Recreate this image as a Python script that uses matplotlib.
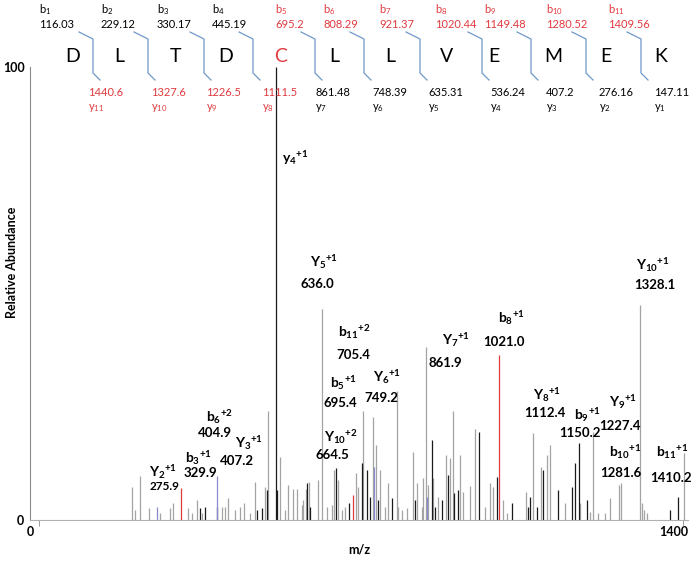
import numpy as np
import matplotlib.pyplot as plt
from matplotlib.lines import Line2D

plt.rcParams['font.family'] = ['Lato', 'DejaVu Sans']
plt.rcParams['mathtext.fontset'] = 'custom'
plt.rcParams['mathtext.rm'] = 'Lato'
plt.rcParams['mathtext.it'] = 'Lato'
plt.rcParams['mathtext.bf'] = 'Lato:bold'

# peptide sequence and fragment masses
residues = ['D', 'L', 'T', 'D', 'C', 'L', 'L', 'V', 'E', 'M', 'E', 'K']
b_ions = ['116.03', '229.12', '330.17', '445.19', '695.2', '808.29', '921.37',
          '1020.44', '1149.48', '1280.52', '1409.56']
y_ions = ['1440.6', '1327.6', '1226.5', '1111.5', '861.48', '748.39', '635.31',
          '536.24', '407.2', '276.16', '147.11']
b_found = [False, False, False, False, True, True, True, True, True, True, True]
y_found = [True, True, True, True, False, False, False, False, False, False, False]

# spectrum peaks (m/z, relative abundance) by colour
grey_mz = [221, 228, 239, 259, 283, 304, 310, 344, 352, 363, 374, 417, 424, 431, 446,
           457, 465, 478, 489, 511, 517, 543, 554, 561, 571, 580, 591, 594, 600, 607,
           626, 635, 646, 657, 661, 670, 678, 685, 709, 713, 723, 746, 752, 761, 772,
           778, 798, 800, 809, 820, 833, 841, 852, 855, 861, 866, 876, 886, 905, 913,
           920, 935, 941, 957, 967, 989, 1000, 1007, 1028, 1037, 1078, 1093, 1110,
           1124, 1130, 1163, 1196, 1217, 1224, 1235, 1250, 1261, 1280, 1285, 1326,
           1330, 1335, 1341, 1422]
grey_int = [7.3, 2.2, 9.7, 2.6, 1.5, 2.6, 3.8, 2.6, 1.5, 4.4, 1.5, 2.9, 2.9, 4.9, 2.2,
            2.9, 3.8, 1.5, 8.4, 7.3, 24.0, 14.0, 2.2, 7.7, 6.8, 6.8, 3.3, 4.4, 6.8, 8.4,
            8.8, 46.6, 2.9, 3.3, 11.0, 8.8, 2.2, 2.9, 10.4, 7.3, 24.0, 22.7, 16.6, 11.0, 2.9,
            8.1, 28.5, 2.9, 2.2, 2.6, 15.0, 8.1, 2.9, 9.3, 38.2, 7.7, 9.3, 5.0, 14.3, 13.7,
            24.0, 14.3, 6.2, 7.5, 20.0, 2.9, 8.1, 7.3, 4.4, 1.5, 6.2, 19.2, 11.7,
            14.3, 16.6, 3.8, 3.8, 1.8, 19.5, 1.5, 1.5, 4.9, 7.7, 8.1, 47.5,
            3.8, 2.2, 1.5, 14.8]
black_mz = [370, 380, 407, 493, 504, 515, 535, 537, 602, 609, 665, 693, 722, 733, 739,
            757, 787, 837, 874, 880, 896, 909, 922, 930, 976, 1015, 1048, 1083, 1087,
            1102, 1115, 1148, 1178, 1185, 1193, 1210, 1391, 1409]
black_int = [2.6, 2.9, 2.9, 2.2, 2.6, 6.6, 100.0, 6.6, 8.1, 2.9, 11.5, 3.8, 12.6, 11.0, 5.1,
             4.4, 4.9, 4.4, 17.7, 2.9, 4.4, 9.9, 6.0, 6.6, 19.4, 9.5, 3.8, 2.9, 5.1,
             2.9, 11.0, 6.6, 7.3, 12.6, 17.0, 4.4, 2.2, 5.1]
red_mz = [328, 702, 1020]
red_int = [7.1, 5.5, 36.4]
blue_mz = [276, 406, 748, 863]
blue_int = [2.9, 9.7, 11.7, 5.0]

# labelled peaks
ion_names = [r'y_{4}{}^{+1}', r'Y_{5}{}^{+1}', r'b_{11}{}^{+2}', r'b_{5}{}^{+1}', r'Y_{6}{}^{+1}',
             r'Y_{10}{}^{+2}', r'Y_{7}{}^{+1}', r'b_{8}{}^{+1}', r'Y_{10}{}^{+1}', r'Y_{8}{}^{+1}',
             r'b_{9}{}^{+1}', r'Y_{9}{}^{+1}', r'b_{10}{}^{+1}', r'b_{11}{}^{+1}', r'Y_{2}{}^{+1}',
             r'b_{3}{}^{+1}', r'b_{6}{}^{+2}', r'Y_{3}{}^{+1}']
ion_values = ['', '636.0', '705.4', '695.4', '749.2', '664.5', '861.9', '1021.0', '1328.1',
              '1112.4', '1150.2', '1227.4', '1281.6', '1410.2', '275.9', '329.9', '404.9',
              '407.2']
# label placement (data coords): name x, name y, value x, value y
name_xy = [(548, 80), (609, 57), (670, 41.5), (652, 30.2), (746, 31.6), (639, 18.3),
           (896, 39.7), (1017, 44.6), (1317, 56.3), (1093, 27.6), (1183, 23.2),
           (1259, 26), (1259, 15), (1360, 15), (259, 10.6), (337, 13.7), (383, 22.7),
           (446, 17)]
value_xy = [(0, 0), (587, 52), (665, 36.4), (637, 25.8), (726, 26.9), (620, 14.3),
            (867, 34.7), (985, 39.3), (1313, 51.9), (1074, 23.6), (1150, 19.2),
            (1237, 20.8), (1239, 10.4), (1347, 9.3), (259, 7.3), (333, 10.4), (365, 19.2),
            (413, 13)]

W, H = 695, 563
fig = plt.figure(figsize=(W / 100, H / 100), dpi=100)
ax = fig.add_axes([30 / W, (H - 520) / H, 658 / W, 453 / H])

grey = '#a3a3a3'
ax.vlines(grey_mz, 0, grey_int, color=grey, lw=0.9)
ax.vlines(black_mz, 0, black_int, color='#1a1a1a', lw=0.9)
ax.vlines(red_mz, 0, red_int, color='#e0393e', lw=0.9)
ax.vlines(blue_mz, 0, blue_int, color='#8a8ad0', lw=0.9)

for name, val, (nx, ny), (vx, vy) in zip(ion_names, ion_values, name_xy, value_xy):
    ax.text(nx, ny, r'$\mathbf{' + name + '}$', fontsize=10, ha='left', va='center')
    if val:
        fs = 8.5 if val == '275.9' else 9.5
        ax.text(vx, vy, val, fontsize=fs, fontweight='bold', ha='left', va='center')

ax.set_xlim(0, 1430)
ax.set_ylim(0, 100)
for s in ['top', 'right']:
    ax.spines[s].set_visible(False)
ax.spines['left'].set_color('#8c8c8c')
ax.spines['bottom'].set_color('#b0b0b0')
ax.set_xticks([0, 1400])
ax.set_xticklabels(['0', '1400'], fontweight='bold', fontsize=9)
ax.set_yticks([0, 100])
ax.set_yticklabels(['0', '100'], fontweight='bold', fontsize=9)
ax.tick_params(length=0, pad=4)
ax.set_xticks([20, 1420], minor=True)
ax.tick_params(which='minor', length=4, color='#8c8c8c')
ax.set_xlabel('m/z', fontweight='bold', fontsize=9, labelpad=4)


def fx(x):
    return x / W


def fy(y):
    return 1 - y / H


fig.text(fx(12), fy(262), 'Relative Abundance', rotation=90, fontweight='bold',
         fontsize=9, ha='center', va='center')

# sequence diagram on top
letter_x = [73, 119, 175, 226, 281, 334, 390, 447, 494, 553, 606, 661]
b_x = [39, 101, 157, 212, 275, 323, 379, 435, 484, 546, 608]
y_x = [88, 151, 206, 262, 315, 372, 428, 490, 546, 599, 654]
bracket_x = [79, 134, 190, 239, 301, 350, 406, 468, 517, 572, 627]

for i, (res, lx) in enumerate(zip(residues, letter_x)):
    col = '#e0393e' if i == 4 else 'black'
    fig.text(fx(lx), fy(57), res, fontsize=14, ha='center', va='center', color=col)

for i, (lab, bx) in enumerate(zip(b_ions, b_x)):
    col = '#e0393e' if b_found[i] else 'black'
    fig.text(fx(bx), fy(10), r'b$_{%d}$' % (i + 1), fontsize=8, ha='left', va='center', color=col)
    fig.text(fx(bx), fy(24), lab, fontsize=8, ha='left', va='center', color=col)

for i, (lab, yx) in enumerate(zip(y_ions, y_x)):
    col = '#e0393e' if y_found[i] else 'black'
    fig.text(fx(yx), fy(92), lab, fontsize=8, ha='left', va='center', color=col)
    fig.text(fx(yx), fy(108), r'y$_{%d}$' % (11 - i), fontsize=8, ha='left', va='center', color=col)

for x0 in bracket_x:
    xs = [x0, x0 + 14, x0 + 14, x0 + 21]
    ys = [32, 39, 73, 80]
    fig.add_artist(Line2D([fx(v) for v in xs], [fy(v) for v in ys],
                          color='#6f97c9', lw=0.9, transform=fig.transFigure))

plt.savefig('out.png', dpi=100)
